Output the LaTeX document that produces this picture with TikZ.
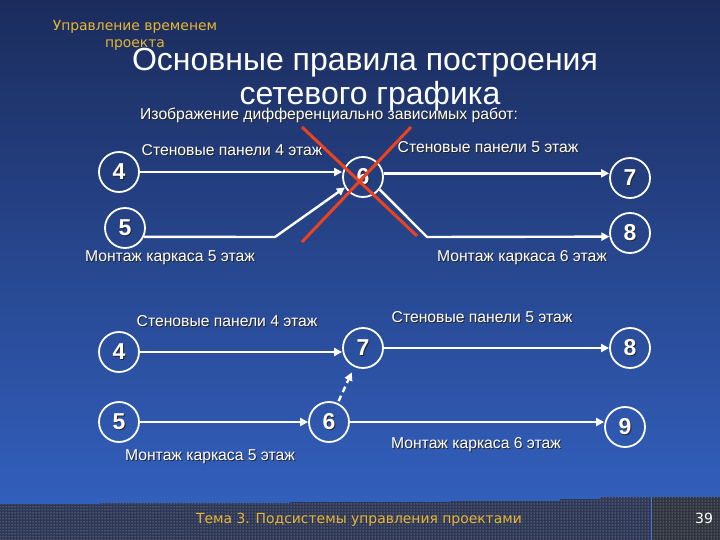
\documentclass[tikz,border=0pt]{standalone}
\usepackage{fontspec}
\setmainfont{Liberation Sans}
\newfontfamily\dvs{DejaVu Sans}
\usetikzlibrary{arrows.meta,patterns,calc}
\definecolor{bgtop}{RGB}{27,44,92}
\definecolor{bgbot}{RGB}{52,99,196}
\definecolor{gold}{RGB}{232,182,52}
\definecolor{redx}{RGB}{236,66,30}
\definecolor{bandl}{RGB}{46,56,86}
\definecolor{bandr}{RGB}{48,52,64}
\definecolor{divl}{RGB}{70,120,210}
\newcommand\shtxt[1]{\makebox[0pt][l]{\hspace{1pt}\raisebox{-1pt}{\color{black!85}#1}}#1}
\begin{document}
\begin{tikzpicture}[x=1pt,y=-1pt,
  ev/.style={circle,draw=white,line width=1.8pt,minimum size=40pt,inner sep=0pt,text=white,font=\fontsize{23}{23}\selectfont\bfseries},
  lbl/.style={text=white,font=\fontsize{15.7}{16}\selectfont,inner sep=0pt},
  arr/.style={draw=white,line width=2.4pt,-{Triangle[length=8pt,width=8pt]}},
  cross/.style={draw=redx,line width=3pt},
  goldtxt/.style={text=gold,font=\dvs\fontsize{13.9}{14}\selectfont,inner sep=0pt},
  ttl/.style={text=white,font=\fontsize{32}{32}\selectfont,inner sep=0pt}]
\useasboundingbox (0,0) rectangle (720,540);
\shade[top color=bgtop,bottom color=bgbot] (0,0) rectangle (720,540);
% footer band
\fill[bandl] (0,540) -- (0,504) -- (100,504) -- (100,503) -- (290,503) -- (290,502) -- (450,502) -- (450,501) -- (560,501) -- (560,499) -- (600,499) -- (600,497) -- (651,497) -- (651,540) -- cycle;
\fill[bandr] (651,497) rectangle (720,540);
\fill[pattern=dots,pattern color=gray!55] (0,540) -- (0,504) -- (100,504) -- (100,503) -- (290,503) -- (290,502) -- (450,502) -- (450,501) -- (560,501) -- (560,499) -- (600,499) -- (600,497) -- (720,497) -- (720,540) -- cycle;
\draw[divl,line width=1pt] (651,497) -- (651,540);
\node[goldtxt] (foot) at (359,520) {Тема 3. Подсистемы управления проектами};
\node[text=white,font=\dvs\fontsize{14}{14}\selectfont,inner sep=0pt] (pg) at (704,518) {39};
% header
\node[goldtxt] (h1) at (135,27) {Управление временем};
\node[goldtxt] (h2) at (135,45) {проекта};
\node[ttl] (t1) at (365,63) {Основные правила построения};
\node[ttl] (t2) at (370,96) {сетевого графика};
\node[lbl,anchor=west] (sub) at (140,116) {\shtxt{Изображение дифференциально зависимых работ:}};
% top diagram
\node[ev] (a4) at (119,172) {\shtxt{4}};
\node[ev] (a5) at (125,228) {\shtxt{5}};
\node[ev] (a6) at (363,177) {\shtxt{6}};
\node[ev] (a7) at (630,178) {\shtxt{7}};
\node[ev] (a8) at (630,233) {\shtxt{8}};
\coordinate (k1) at (275,237);
\coordinate (k2) at (427,237);
\draw[arr] (a4.east) -- (a4.east -| a6.west);
\draw[arr] (a5.-25) -- (k1) -- (a6.210);
\draw[arr] (a6.10) -- (a6.10 -| a7.west);
\draw[arr] (a6.-37) -- (k2) -- (a8.190);
\node[lbl] (la1) at (232,151) {\shtxt{Стеновые панели 4 этаж}};
\node[lbl] (la2) at (170,258) {\shtxt{Монтаж каркаса 5 этаж}};
\node[lbl] (la3) at (488,148) {\shtxt{Стеновые панели 5 этаж}};
\node[lbl] (la4) at (522,258) {\shtxt{Монтаж каркаса 6 этаж}};
\draw[cross] (302,127) -- (417,236);
\draw[cross] (302,242) -- (411,127);
% bottom diagram
\node[ev] (b4) at (119,352) {\shtxt{4}};
\node[ev] (b5) at (119,422) {\shtxt{5}};
\node[ev] (b6) at (329,422) {\shtxt{6}};
\node[ev] (b7) at (363,348) {\shtxt{7}};
\node[ev] (b8) at (630,348) {\shtxt{8}};
\node[ev] (b9) at (625,427) {\shtxt{9}};
\draw[arr] (b4.east) -- (b4.east -| b7.west);
\draw[arr] (b5) -- (b6);
\draw[arr] (b7) -- (b8);
\draw[arr] (b6.east) -- (b6.east -| b9.west);
\draw[arr,dash pattern=on 6pt off 4pt,shorten <=2pt,shorten >=6pt] (b6) -- (b7);
\node[lbl] (lb1) at (227,322) {\shtxt{Стеновые панели 4 этаж}};
\node[lbl] (lb2) at (210,457) {\shtxt{Монтаж каркаса 5 этаж}};
\node[lbl] (lb3) at (482,318) {\shtxt{Стеновые панели 5 этаж}};
\node[lbl] (lb4) at (476,445) {\shtxt{Монтаж каркаса 6 этаж}};
\end{tikzpicture}
\end{document}
